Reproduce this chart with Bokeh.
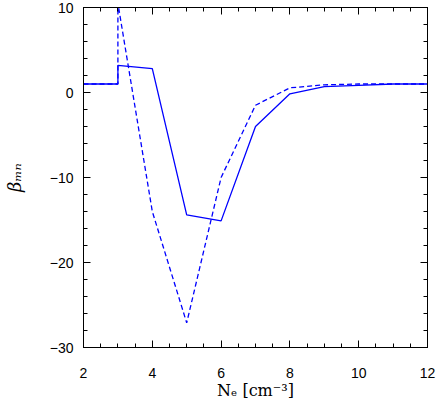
from bokeh.plotting import figure
from bokeh.models import Range1d, LinearAxis, SingleIntervalTicker
from bokeh.embed import file_html
from bokeh.resources import INLINE

# Data
x_solid = [2, 3, 3, 4, 5, 6, 7, 8, 9, 10, 11, 12]
y_solid = [1.0, 1.0, 3.2, 2.8, -14.4, -15.1, -4.0, -0.15, 0.7, 0.85, 1.0, 1.0]
x_dashed = [2, 3, 3, 4, 5, 6, 7, 8, 9, 10, 11, 12]
y_dashed = [1.0, 1.0, 10.5, -14.0, -27.1, -10.0, -1.5, 0.55, 0.9, 1.0, 1.0, 1.0]

x_ticks = [2, 4, 6, 8, 10, 12]
y_ticks = [-30, -20, -10, 0, 10]
y_tick_labels = ["\u221230", "\u221220", "\u221210", "0", "10"]
x_label = "N\u2091 [cm\u207b\u00b3]"
y_label = "\u03b2\u2098\u2099"

p = figure(width=436, height=402, output_backend="svg", toolbar_location=None,
           x_range=Range1d(2, 12), y_range=Range1d(-30, 10),
           min_border_left=82, min_border_right=9, min_border_top=7, min_border_bottom=51)
p.xgrid.visible = False
p.ygrid.visible = False
p.outline_line_color = "black"
p.background_fill_color = "white"
p.border_fill_color = "white"

p.line(x_solid, y_solid, line_color="#0000ff", line_width=1.3)
p.line(x_dashed, y_dashed, line_color="#0000ff", line_width=1.3, line_dash="5 3")

def style(ax, labels=True):
    ax.axis_line_color = "black"
    ax.major_tick_in = 7
    ax.major_tick_out = 0
    ax.minor_tick_in = 4
    ax.minor_tick_out = 0
    ax.major_tick_line_color = "black"
    ax.minor_tick_line_color = "black"
    if labels:
        ax.major_label_text_font = "Liberation Sans"
        ax.major_label_text_font_size = "14px"
        ax.major_label_text_color = "black"
    else:
        ax.major_label_text_font_size = "0px"
        ax.major_label_text_color = None
        ax.major_label_standoff = 0

xa = p.xaxis[0]
xa.ticker = SingleIntervalTicker(interval=2, num_minor_ticks=4)
style(xa)
xa.major_label_standoff = 20
xa.axis_label = x_label
xa.axis_label_text_font = "DejaVu Serif"
xa.axis_label_text_font_style = "normal"
xa.axis_label_text_font_size = "16px"
xa.axis_label_text_color = "black"
xa.axis_label_standoff = 0

ya = p.yaxis[0]
ya.ticker = SingleIntervalTicker(interval=10, num_minor_ticks=5)
style(ya)
ya.major_label_standoff = 10
ya.major_label_overrides = dict(zip(y_ticks, y_tick_labels))
ya.axis_label = y_label
ya.axis_label_text_font = "DejaVu Serif"
ya.axis_label_text_font_style = "italic"
ya.axis_label_text_font_size = "18px"
ya.axis_label_text_color = "black"
ya.axis_label_standoff = 22

top = LinearAxis(ticker=SingleIntervalTicker(interval=2, num_minor_ticks=4))
style(top, labels=False)
p.add_layout(top, "above")
right = LinearAxis(ticker=SingleIntervalTicker(interval=10, num_minor_ticks=5))
style(right, labels=False)
p.add_layout(right, "right")

open("out.html", "w").write(file_html(p, INLINE))
